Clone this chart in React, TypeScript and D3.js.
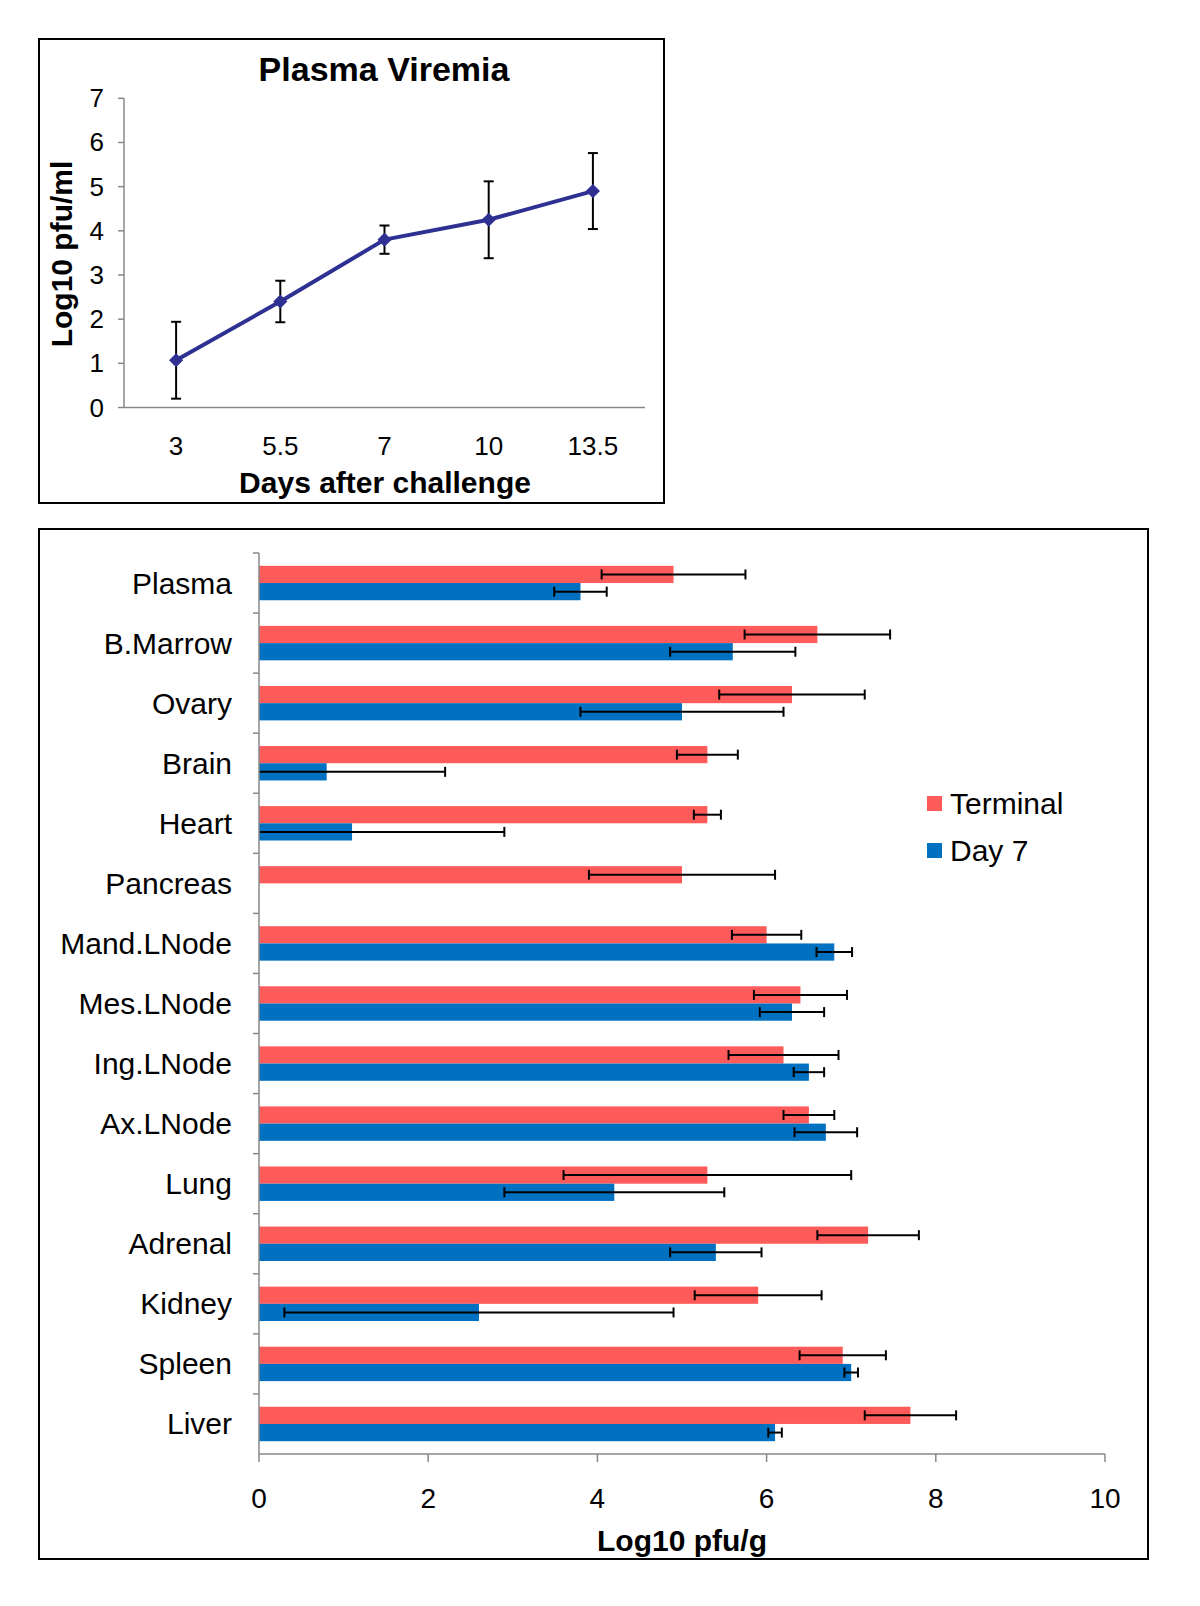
import React from "react";
import * as d3 from "d3";

const days = ["3", "5.5", "7", "10", "13.5"];
const viremia = [1.07, 2.4, 3.8, 4.25, 4.9];
const viremiaErr = [0.87, 0.47, 0.32, 0.87, 0.86];
const viremiaTicks = [0, 1, 2, 3, 4, 5, 6, 7];

const tissues = ["Plasma", "B.Marrow", "Ovary", "Brain", "Heart", "Pancreas", "Mand.LNode", "Mes.LNode", "Ing.LNode", "Ax.LNode", "Lung", "Adrenal", "Kidney", "Spleen", "Liver"];
const terminal = [4.9, 6.6, 6.3, 5.3, 5.3, 5.0, 6.0, 6.4, 6.2, 6.5, 5.3, 7.2, 5.9, 6.9, 7.7];
const terminalErr = [0.85, 0.86, 0.86, 0.36, 0.16, 1.1, 0.41, 0.55, 0.65, 0.3, 1.7, 0.6, 0.75, 0.51, 0.54];
const day7 = [3.8, 5.6, 5.0, 0.8, 1.1, 0, 6.8, 6.3, 6.5, 6.7, 4.2, 5.4, 2.6, 7.0, 6.1];
const day7Err = [0.31, 0.74, 1.2, 1.4, 1.8, 0, 0.21, 0.38, 0.18, 0.37, 1.3, 0.54, 2.3, 0.08, 0.08];
const seriesNames = ["Terminal", "Day 7"];
const seriesColors = ["#FF5B5B", "#0070C0"];
const organTicks = [0, 2, 4, 6, 8, 10];

const FONT = "'Liberation Sans', Arial, sans-serif";

function TopChart() {
  const x = d3.scaleBand().domain(days).range([124, 645]);
  const y = d3.scaleLinear().domain([0, 7]).range([407.5, 98.3]);
  const line = d3
    .line<number>()
    .x((_, i) => (x(days[i]) as number) + x.bandwidth() / 2)
    .y((v) => y(v));
  const diamond = d3.symbol().type(d3.symbolSquare).size(100)();
  return (
    <g>
      <rect x={39} y={39} width={625} height={464} fill="white" stroke="black" strokeWidth={2} />
      <text x={384} y={81} textAnchor="middle" fontFamily={FONT} fontWeight="bold" fontSize={34}>
        Plasma Viremia
      </text>
      <line x1={124} x2={124} y1={y(7)} y2={y(0)} stroke="#888" strokeWidth={1.5} />
      <line x1={124} x2={645} y1={y(0)} y2={y(0)} stroke="#888" strokeWidth={1.5} />
      {viremiaTicks.map((t) => (
        <g key={t}>
          <line x1={118} x2={124} y1={y(t)} y2={y(t)} stroke="#888" strokeWidth={1.5} />
          <text x={104} y={y(t) + 9} textAnchor="end" fontFamily={FONT} fontSize={26}>
            {t}
          </text>
        </g>
      ))}
      {days.map((d) => (
        <text key={d} x={(x(d) as number) + x.bandwidth() / 2} y={455} textAnchor="middle" fontFamily={FONT} fontSize={26}>
          {d}
        </text>
      ))}
      <text x={385} y={493} textAnchor="middle" fontFamily={FONT} fontWeight="bold" fontSize={30}>
        Days after challenge
      </text>
      <text
        transform={`translate(72,254) rotate(-90)`}
        textAnchor="middle"
        fontFamily={FONT}
        fontWeight="bold"
        fontSize={30}
      >
        Log10 pfu/ml
      </text>
      {viremia.map((v, i) => {
        const cx = (x(days[i]) as number) + x.bandwidth() / 2;
        return (
          <g key={i} stroke="black" strokeWidth={2}>
            <line x1={cx} x2={cx} y1={y(v - viremiaErr[i])} y2={y(v + viremiaErr[i])} />
            <line x1={cx - 5} x2={cx + 5} y1={y(v - viremiaErr[i])} y2={y(v - viremiaErr[i])} />
            <line x1={cx - 5} x2={cx + 5} y1={y(v + viremiaErr[i])} y2={y(v + viremiaErr[i])} />
          </g>
        );
      })}
      <path d={line(viremia) || ""} fill="none" stroke="#2E3192" strokeWidth={4} strokeLinejoin="round" />
      {viremia.map((v, i) => {
        const cx = (x(days[i]) as number) + x.bandwidth() / 2;
        return (
          <path key={i} d={diamond || ""} transform={`translate(${cx},${y(v)}) rotate(45)`} fill="#2E3192" />
        );
      })}
    </g>
  );
}

function BottomChart() {
  const x = d3.scaleLinear().domain([0, 10]).range([259, 1105]);
  const y = d3.scaleBand().domain(tissues).range([553, 1454]);
  const inner = d3.scaleBand().domain(seriesNames).range([0, y.bandwidth()]).paddingOuter(0.745);
  const series = [
    { name: seriesNames[0], vals: terminal, errs: terminalErr, color: seriesColors[0] },
    { name: seriesNames[1], vals: day7, errs: day7Err, color: seriesColors[1] },
  ];
  return (
    <g>
      <rect x={39} y={529} width={1109} height={1030} fill="white" stroke="black" strokeWidth={2} />
      {series.map((s) =>
        s.vals.map((v, i) => {
          const by = (y(tissues[i]) as number) + (inner(s.name) as number);
          return (
            <rect key={s.name + i} x={x(0)} y={by} width={x(v) - x(0)} height={inner.bandwidth()} fill={s.color} />
          );
        })
      )}
      {series.map((s) =>
        s.vals.map((v, i) => {
          if (s.errs[i] <= 0) return null;
          const cy = (y(tissues[i]) as number) + (inner(s.name) as number) + inner.bandwidth() / 2;
          const lo = v - s.errs[i];
          const hi = v + s.errs[i];
          return (
            <g key={"e" + s.name + i} stroke="black" strokeWidth={2}>
              <line x1={x(Math.max(0, lo))} x2={x(hi)} y1={cy} y2={cy} />
              {lo >= 0 && <line x1={x(lo)} x2={x(lo)} y1={cy - 5} y2={cy + 5} />}
              <line x1={x(hi)} x2={x(hi)} y1={cy - 5} y2={cy + 5} />
            </g>
          );
        })
      )}
      <line x1={259} x2={259} y1={553} y2={1454} stroke="#888" strokeWidth={1.5} />
      <line x1={259} x2={1105} y1={1454} y2={1454} stroke="#888" strokeWidth={1.5} />
      {tissues.map((t) => (
        <line key={"tk" + t} x1={253} x2={259} y1={y(t) as number} y2={y(t) as number} stroke="#888" strokeWidth={1.5} />
      ))}
      {tissues.map((t) => (
        <text
          key={t}
          x={232}
          y={(y(t) as number) + y.bandwidth() / 2 + 10.5}
          textAnchor="end"
          fontFamily={FONT}
          fontSize={30}
        >
          {t}
        </text>
      ))}
      {organTicks.map((t) => (
        <g key={t}>
          <line x1={x(t)} x2={x(t)} y1={1454} y2={1462} stroke="#888" strokeWidth={1.5} />
          <text x={x(t)} y={1508} textAnchor="middle" fontFamily={FONT} fontSize={28}>
            {t}
          </text>
        </g>
      ))}
      <text x={682} y={1551} textAnchor="middle" fontFamily={FONT} fontWeight="bold" fontSize={30}>
        Log10 pfu/g
      </text>
      {seriesNames.map((n, i) => (
        <g key={n}>
          <rect x={927} y={796 + i * 47} width={15} height={15} fill={seriesColors[i]} />
          <text x={950} y={814 + i * 47} fontFamily={FONT} fontSize={30}>
            {n}
          </text>
        </g>
      ))}
    </g>
  );
}

export default function App() {
  return (
    <svg
      width={1200}
      height={1606}
      viewBox="0 0 1200 1606"
      style={{ position: "absolute", left: 0, top: 0, background: "white" }}
    >
      <rect width={1200} height={1606} fill="white" />
      <TopChart />
      <BottomChart />
    </svg>
  );
}
